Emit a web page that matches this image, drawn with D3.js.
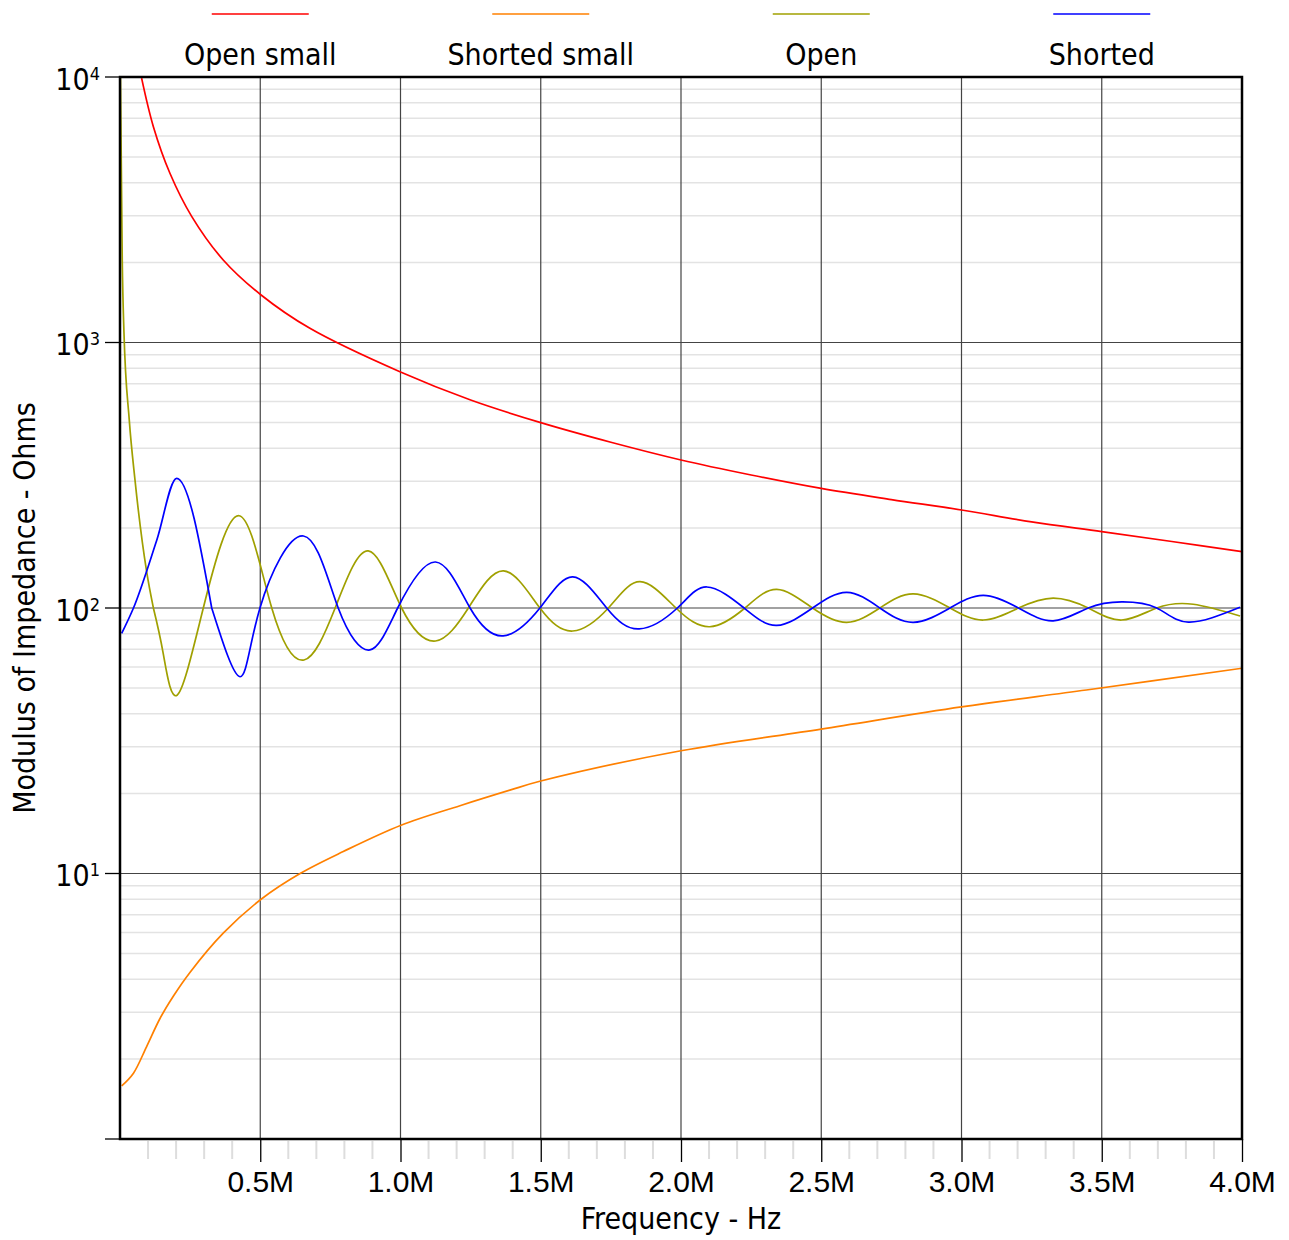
<!DOCTYPE html>
<html>
<head>
<meta charset="utf-8">
<script src="https://cdn.jsdelivr.net/npm/d3@7"></script>
<style>
  body { margin: 0; background: #fff; }
  svg { display: block; font-family: "DejaVu Sans Condensed", "DejaVu Sans", sans-serif; font-stretch: condensed; }
</style>
</head>
<body>
<div id="chart"></div>
<script>
// series names + colours
const seriesNames = ["Open small", "Shorted small", "Open", "Shorted"];
const seriesColors = ["#ff0000", "#ff8000", "#a0a000", "#0000ff"];

// frequency in MHz, |Z| in ohms
const openSmallF = [0.077, 0.119, 0.178, 0.256, 0.368, 0.503, 0.677, 1.0, 1.25, 1.5, 1.75, 2.0, 2.25, 2.5, 2.75, 3.0, 3.25, 3.5, 3.75, 4.0];
const openSmallZ = [9900, 6500, 4340, 2980, 2046, 1510, 1131, 774, 607, 499, 421, 361, 317, 282, 256, 234, 211, 194, 178, 163];

const shortedSmallF = [0.006, 0.048, 0.095, 0.143, 0.19, 0.25, 0.368, 0.503, 0.642, 0.796, 1.002, 1.212, 1.39, 1.5, 2.0, 2.5, 3.0, 3.445, 4.0];
const shortedSmallZ = [1.585, 1.77, 2.23, 2.85, 3.45, 4.25, 5.96, 8.0, 10.0, 12.1, 15.2, 18.0, 20.6, 22.3, 29.0, 35, 42.4, 49.1, 59.3];

const openF = [0.0016, 0.008, 0.014, 0.033, 0.0535, 0.095, 0.119, 0.154, 0.204, 0.297, 0.425, 0.541, 0.656, 0.767, 0.885, 1.004,
  1.125, 1.242, 1.367, 1.497, 1.614, 1.741, 1.854, 1.982, 2.103, 2.228, 2.341, 2.469, 2.591, 2.709, 2.828, 2.959,
  3.078, 3.203, 3.327, 3.452, 3.571, 3.696, 3.826, 3.993];
const openZ = [10000, 2040, 1100, 511, 303, 137, 100, 67.5, 47, 100, 222.6, 100, 63.7, 100, 164, 100,
  75.1, 100, 138, 100, 81.9, 100, 125.6, 100, 85, 100, 117.5, 100, 88.3, 100, 113, 100,
  90.1, 100, 109, 100, 90.1, 100, 103.3, 93.3];

const shortedF = [0.006, 0.048, 0.131, 0.202, 0.327, 0.428, 0.499, 0.654, 0.778, 0.891, 0.99, 1.125, 1.248, 1.366, 1.497, 1.614, 1.735,
  1.851, 1.987, 2.092, 2.225, 2.341, 2.469, 2.591, 2.709, 2.828, 2.959, 3.078, 3.203, 3.327, 3.452, 3.571, 3.696, 3.809, 3.993];
const shortedZ = [80.3, 100, 180, 308, 100, 55.1, 100, 186.7, 100, 69.5, 100, 149, 100, 78.5, 100, 131, 100,
  83.4, 100, 120, 100, 86, 100, 114.6, 100, 88.3, 100, 111.6, 100, 89.5, 100, 105.4, 100, 88.5, 100.6];

const xTicks = [0.5, 1.0, 1.5, 2.0, 2.5, 3.0, 3.5, 4.0];
const yDecades = [0, 1, 2, 3, 4];

const width = 1289, height = 1240;
const margin = { top: 77, right: 47, bottom: 101, left: 120 };

const x = d3.scaleLinear().domain([0, 4]).range([margin.left, width - margin.right]);
const y = d3.scaleLog().domain([1, 1e4]).range([height - margin.bottom, margin.top]);

const svg = d3.select("#chart").append("svg")
  .attr("width", width)
  .attr("height", height);

svg.append("defs").append("clipPath").attr("id", "plot-clip")
  .append("rect")
  .attr("x", x(0)).attr("y", y(1e4))
  .attr("width", x(4) - x(0)).attr("height", y(1) - y(1e4));

// minor horizontal grid (2..9 in each decade)
const minorY = [];
yDecades.slice(0, -1).forEach(p => { for (let k = 2; k <= 9; k++) minorY.push(k * Math.pow(10, p)); });
svg.append("g").selectAll("line")
  .data(minorY)
  .join("line")
  .attr("x1", x(0)).attr("x2", x(4))
  .attr("y1", d => y(d)).attr("y2", d => y(d))
  .attr("stroke", "#e3e3e3")
  .attr("stroke-width", 1.5);

// major grid
svg.append("g").selectAll("line")
  .data(xTicks.slice(0, -1))
  .join("line")
  .attr("x1", d => x(d)).attr("x2", d => x(d))
  .attr("y1", y(1e4)).attr("y2", y(1))
  .attr("stroke", "#444")
  .attr("stroke-width", 1.2);
svg.append("g").selectAll("line")
  .data(yDecades.slice(1, -1))
  .join("line")
  .attr("x1", x(0)).attr("x2", x(4))
  .attr("y1", d => y(Math.pow(10, d))).attr("y2", d => y(Math.pow(10, d)))
  .attr("stroke", "#444")
  .attr("stroke-width", 1.2);

// minor x ticks below the axis
const minorX = d3.range(1, 40).map(i => i / 10).filter(d => Math.abs(d * 2 - Math.round(d * 2)) > 1e-6);
svg.append("g").selectAll("line")
  .data(minorX)
  .join("line")
  .attr("x1", d => x(d)).attr("x2", d => x(d))
  .attr("y1", y(1) + 2).attr("y2", y(1) + 20)
  .attr("stroke", "#ddd")
  .attr("stroke-width", 2);

// x axis
svg.append("g")
  .attr("transform", `translate(0,${y(1)})`)
  .call(d3.axisBottom(x)
    .tickValues(xTicks)
    .tickFormat(d => d.toFixed(1) + "M")
    .tickSize(23)
    .tickPadding(9))
  .call(g => g.select(".domain").remove())
  .call(g => g.selectAll(".tick line").attr("stroke", "#000").attr("stroke-width", 1.3))
  .call(g => g.selectAll(".tick text").attr("font-size", 30).attr("fill", "#000").attr("font-family", null));

// y axis ticks + labels (10^n)
const yAxis = svg.append("g");
yAxis.selectAll("line")
  .data(yDecades)
  .join("line")
  .attr("x1", x(0) - 15).attr("x2", x(0))
  .attr("y1", d => y(Math.pow(10, d))).attr("y2", d => y(Math.pow(10, d)))
  .attr("stroke", "#000")
  .attr("stroke-width", 1.3);
const yLab = yAxis.selectAll("text")
  .data(yDecades.slice(1))
  .join("text")
  .attr("x", x(0) - 20)
  .attr("y", d => y(Math.pow(10, d)) + 12.5)
  .attr("text-anchor", "end")
  .attr("font-size", 30);
yLab.append("tspan").text("10");
yLab.append("tspan").attr("dy", -10).attr("font-size", 18).text(d => d);

// curves: smooth head with monotoneX, oscillating part with a natural spline
const line = d3.line().x(d => x(d[0])).y(d => y(d[1]));
const series = [
  { f: openSmallF, z: openSmallZ, head: -1 },
  { f: shortedSmallF, z: shortedSmallZ, head: -1 },
  { f: openF, z: openZ, head: 6 },
  { f: shortedF, z: shortedZ, head: 4 }
];
function pathFor(s) {
  const pts = d3.zip(s.f, s.z);
  if (s.head < 0) return line.curve(d3.curveCatmullRom.alpha(0.5))(pts);
  const tail = line.curve(d3.curveNatural)(pts.slice(s.head));
  if (s.head === 0) return tail;
  return line.curve(d3.curveMonotoneX)(pts.slice(0, s.head + 1)) + tail;
}
const plot = svg.append("g").attr("clip-path", "url(#plot-clip)");
series.forEach((s, i) => {
  plot.append("path")
    .attr("d", pathFor(s))
    .attr("fill", "none")
    .attr("stroke", seriesColors[i])
    .attr("stroke-width", 1.7);
});

// frame
svg.append("rect")
  .attr("x", x(0)).attr("y", y(1e4))
  .attr("width", x(4) - x(0)).attr("height", y(1) - y(1e4))
  .attr("fill", "none")
  .attr("stroke", "#000")
  .attr("stroke-width", 2.5);

// legend: plot width split into four slots
const slot = (x(4) - x(0)) / seriesNames.length;
const leg = svg.append("g").selectAll("g")
  .data(seriesNames)
  .join("g")
  .attr("transform", (d, i) => `translate(${x(0) + slot * (i + 0.5)},0)`);
leg.append("line")
  .attr("x1", -48.5).attr("x2", 48.5)
  .attr("y1", 14).attr("y2", 14)
  .attr("stroke", (d, i) => seriesColors[i])
  .attr("stroke-width", 1.4);
leg.append("text")
  .attr("y", 65)
  .attr("text-anchor", "middle")
  .attr("font-size", 30)
  .text(d => d);

// axis titles
svg.append("text")
  .attr("x", (x(0) + x(4)) / 2)
  .attr("y", 1229)
  .attr("text-anchor", "middle")
  .attr("font-size", 30)
  .text("Frequency - Hz");
svg.append("text")
  .attr("transform", `translate(35,${(y(1) + y(1e4)) / 2}) rotate(-90)`)
  .attr("text-anchor", "middle")
  .attr("font-size", 30)
  .text("Modulus of Impedance - Ohms");
</script>
</body>
</html>
